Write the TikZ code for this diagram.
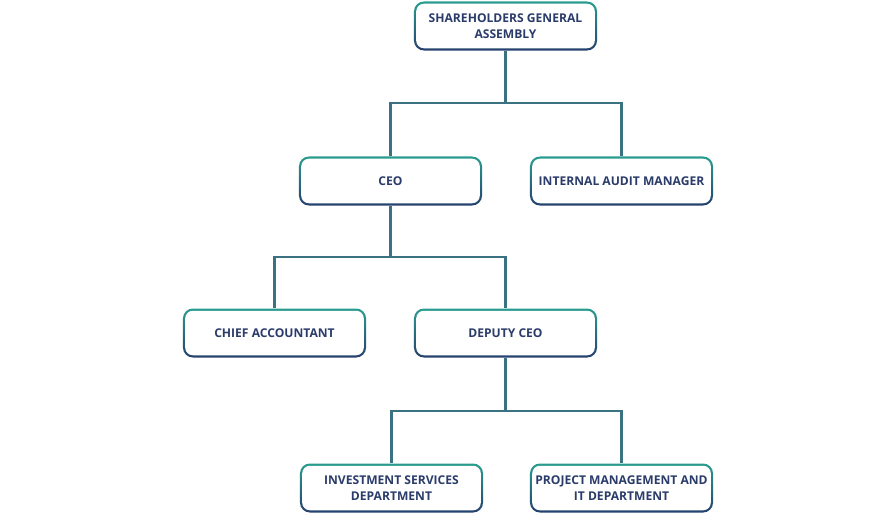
\documentclass[tikz,border=0pt]{standalone}
\usepackage{fontspec}
\setmainfont{Open Sans}
\definecolor{boxtop}{HTML}{2A9D8F}
\definecolor{boxbottom}{HTML}{26406E}
\definecolor{linkcol}{HTML}{3A7282}
\definecolor{labelcol}{HTML}{2B3C6B}
\begin{document}
\begin{tikzpicture}[
        x=0.025cm, y=-0.025cm,
        unit/.style={
            rounded corners=7pt,
            minimum width=4.575cm,
            minimum height=1.225cm,
            inner sep=0pt,
            top color=boxtop,
            bottom color=boxbottom,
            path picture={
                \fill[white, rounded corners=5.4pt]
                    ([shift={(1.6pt,-1.6pt)}]path picture bounding box.north west)
                    rectangle
                    ([shift={(-1.6pt,1.6pt)}]path picture bounding box.south east);
            },
            align=center,
            text=labelcol,
            font=\bfseries\fontsize{8.6}{11.3}\selectfont
        },
        link/.style={draw=linkcol, line width=1.6pt}
    ]
            \useasboundingbox (0,0) rectangle (896,528);

            \node[unit, name=sga] at (505.5,26) {SHAREHOLDERS GENERAL\\ASSEMBLY};

            \node[unit, name=ceo] at (390.5,181) {CEO};
            \node[unit, name=audit] at (621.5,181) {INTERNAL AUDIT MANAGER};

            \node[unit, name=acct] at (274.5,333) {CHIEF ACCOUNTANT};
            \node[unit, name=deputy] at (505.5,333) {DEPUTY CEO};

            \node[unit, name=invest] at (391.5,488) {INVESTMENT SERVICES\\DEPARTMENT};
            \node[unit, name=pmit] at (621.5,488) {PROJECT MANAGEMENT AND\\IT DEPARTMENT};

            \coordinate (j1) at (505.5,103);
            \coordinate (j2) at (390.5,257);
            \coordinate (j3) at (505.5,411);

            \draw[link] (sga) -- (j1);
            \draw[link] (j1) -| (ceo);
            \draw[link] (j1) -| (audit);

            \draw[link] (ceo) -- (j2);
            \draw[link] (j2) -| (acct);
            \draw[link] (j2) -| (deputy);

            \draw[link] (deputy) -- (j3);
            \draw[link] (j3) -| (invest);
            \draw[link] (j3) -| (pmit);
        \end{tikzpicture}
\end{document}
